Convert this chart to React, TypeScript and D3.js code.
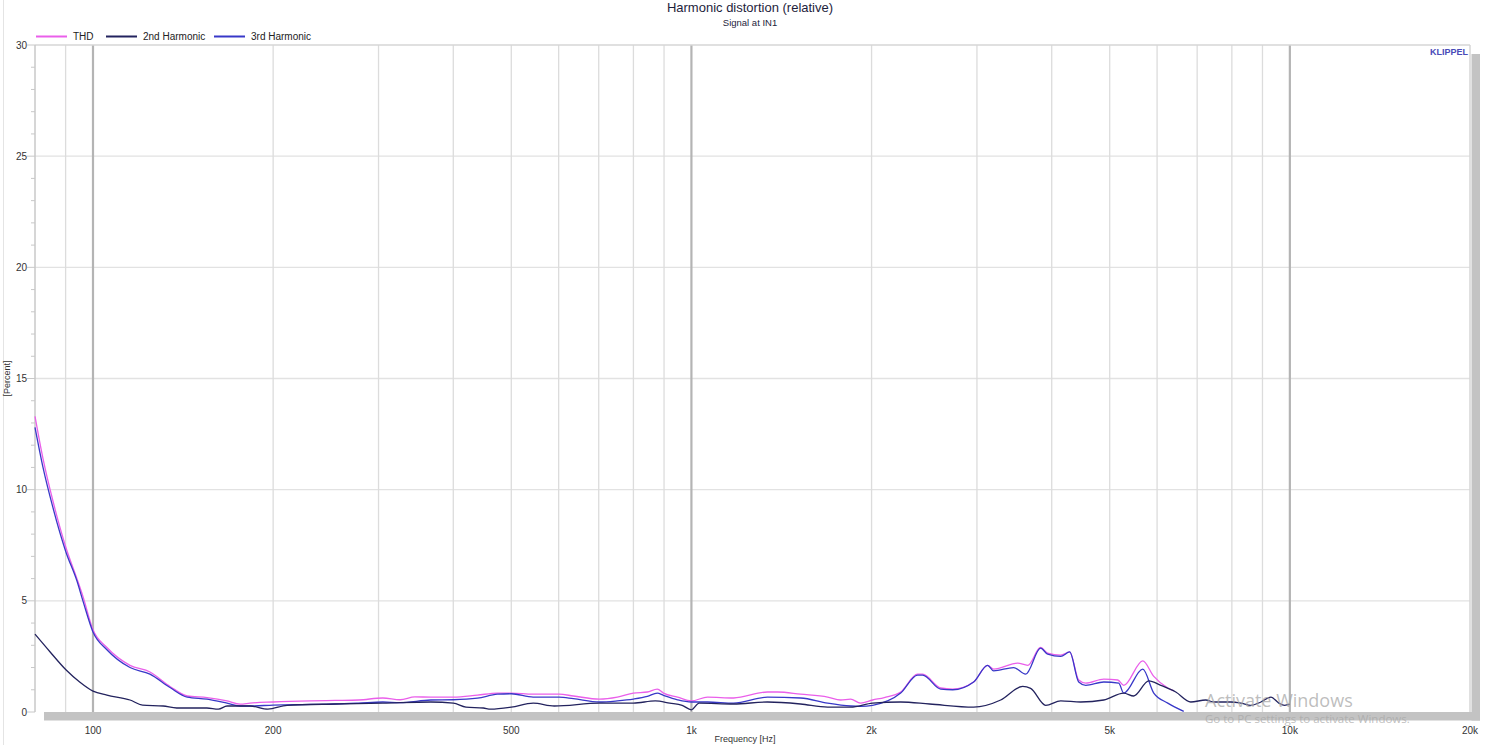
import React from "react";
import * as d3 from "d3";

const W = 1496;
const H = 745;

// THD
const thdFreq = [80, 82.5, 85.7, 90.1, 94, 96.2, 100, 105.5, 115.3, 124.5, 134.5, 143.7, 155.1, 167.5, 176.2, 183, 200, 231, 254, 278, 305, 326, 345, 367, 400, 439, 474, 500, 544, 601, 635, 702, 752, 800, 844, 877, 898, 948, 1000, 1064, 1176, 1340, 1393, 1522, 1689, 1775, 1845, 1917, 2008, 2100, 2237, 2387, 2434, 2609, 2733, 2962, 3126, 3199, 3509, 3647, 3833, 3938, 4141, 4287, 4438, 4560, 4887, 5157, 5277, 5678, 5924, 6252, 6397];
const thdVal = [13.3, 11.4, 9.5, 7.4, 6.0, 5.2, 3.7, 2.9, 2.1, 1.8, 1.15, 0.72, 0.65, 0.5, 0.35, 0.4, 0.45, 0.5, 0.52, 0.54, 0.63, 0.55, 0.68, 0.67, 0.67, 0.76, 0.85, 0.85, 0.8, 0.8, 0.72, 0.58, 0.67, 0.85, 0.9, 1.03, 0.85, 0.67, 0.5, 0.67, 0.63, 0.9, 0.9, 0.8, 0.67, 0.54, 0.58, 0.4, 0.54, 0.65, 0.9, 1.7, 1.7, 1.08, 1.03, 1.35, 2.1, 1.93, 2.2, 2.1, 2.9, 2.65, 2.56, 2.7, 1.44, 1.3, 1.48, 1.44, 1.2, 2.3, 1.6, 1.08, 0.95];

// 2nd harmonic
const h2Freq = [80, 84.8, 90.1, 95, 100, 105.5, 115.3, 121, 131, 138, 148, 155, 162, 167.5, 183, 196, 211, 254, 305, 367, 400, 420, 449, 462, 500, 544, 590, 702, 800, 870, 920, 965, 1000, 1030, 1176, 1340, 1522, 1689, 1845, 2008, 2237, 2500, 2962, 3287, 3577, 3689, 3908, 4141, 4472, 4887, 5277, 5484, 5811, 6085, 6447, 6830, 7235, 7464, 7965, 8281, 8606, 8945, 9296, 9586, 9800, 10000];
const h2Val = [3.5, 2.7, 1.9, 1.35, 0.94, 0.76, 0.54, 0.31, 0.27, 0.18, 0.18, 0.18, 0.13, 0.27, 0.27, 0.13, 0.3, 0.36, 0.4, 0.45, 0.4, 0.22, 0.18, 0.13, 0.22, 0.4, 0.27, 0.4, 0.4, 0.5, 0.4, 0.3, 0.1, 0.4, 0.36, 0.45, 0.36, 0.22, 0.22, 0.4, 0.45, 0.36, 0.22, 0.54, 1.15, 1.06, 0.3, 0.5, 0.45, 0.54, 0.85, 0.72, 1.4, 1.2, 0.9, 0.45, 0.54, 0.45, 0.45, 0.4, 0.3, 0.45, 0.67, 0.4, 0.3, 0.35];

// 3rd harmonic
const h3Freq = [80, 82.5, 85.7, 90.1, 94, 96.2, 100, 105.5, 115.3, 124.5, 134.5, 143.7, 155.1, 167.5, 176.2, 183, 200, 231, 254, 278, 305, 326, 367, 400, 439, 474, 500, 544, 601, 635, 702, 752, 800, 844, 877, 898, 948, 1000, 1064, 1176, 1340, 1522, 1689, 1845, 1917, 2008, 2237, 2387, 2434, 2609, 2733, 2962, 3126, 3199, 3455, 3618, 3833, 3938, 4141, 4287, 4438, 4560, 4887, 5176, 5277, 5678, 5924, 6252, 6648];
const h3Val = [12.8, 11.0, 9.2, 7.2, 5.9, 5.0, 3.6, 2.8, 2.0, 1.7, 1.1, 0.67, 0.58, 0.4, 0.27, 0.27, 0.31, 0.34, 0.36, 0.4, 0.45, 0.42, 0.54, 0.55, 0.62, 0.8, 0.82, 0.67, 0.67, 0.6, 0.45, 0.5, 0.58, 0.7, 0.85, 0.75, 0.55, 0.45, 0.45, 0.4, 0.67, 0.63, 0.4, 0.27, 0.25, 0.3, 0.85, 1.66, 1.66, 1.03, 1.0, 1.35, 2.1, 1.85, 2.0, 1.7, 2.87, 2.6, 2.5, 2.7, 1.35, 1.2, 1.35, 1.3, 0.85, 1.93, 0.85, 0.4, 0.03];

const minorGrid = [90, 200, 300, 400, 500, 600, 700, 800, 900, 2000, 3000, 4000, 5000, 6000, 7000, 8000, 9000];
const majorGrid = [100, 1000, 10000];
const xTicks = [100, 200, 500, 1000, 2000, 5000, 10000, 20000];
const xTickLabels = ["100", "200", "500", "1k", "2k", "5k", "10k", "20k"];
const yTicks = [0, 5, 10, 15, 20, 25, 30];

const series = [
  { name: "THD", freq: thdFreq, val: thdVal, color: "#ea5fea" },
  { name: "3rd Harmonic", freq: h3Freq, val: h3Val, color: "#3838c8" },
  { name: "2nd Harmonic", freq: h2Freq, val: h2Val, color: "#23235e" },
];
const legend = [
  { name: "THD", color: "#ea5fea" },
  { name: "2nd Harmonic", color: "#23235e" },
  { name: "3rd Harmonic", color: "#3838c8" },
];

const FONT = "'Liberation Sans', Arial, sans-serif";

export default function App() {
  const L = 35, R = 1470, T = 45, B = 712;
  const x = d3.scaleLog().domain([80, 20000]).range([L, R]);
  const y = d3.scaleLinear().domain([0, 30]).range([B, T]);
  const line = d3
    .line<[number, number]>()
    .x((d) => x(d[0]))
    .y((d) => y(d[1]))
    .curve(d3.curveMonotoneX);
  const minorY = d3.range(0, 31);

  return (
    <div style={{ position: "fixed", left: 0, top: 0 }}>
      <svg width={W} height={H} style={{ display: "block", background: "#fff" }} fontFamily={FONT}>
        <line x1={3.5} x2={3.5} y1={0} y2={H} stroke="#e4e4e4" />
        <text x={750} y={12} textAnchor="middle" fontSize={13} fill="#1e1e3c">Harmonic distortion (relative)</text>
        <text x={750} y={26} textAnchor="middle" fontSize={9.5} fill="#1e1e3c">Signal at IN1</text>

        {/* horizontal grid */}
        {yTicks.filter((t) => t > 0 && t < 30).map((t) => (
          <line key={"h" + t} x1={L} x2={R} y1={y(t)} y2={y(t)} stroke="#e2e2e2" strokeWidth={1.3} />
        ))}
        {/* vertical grid */}
        {minorGrid.map((f) => (
          <line key={"v" + f} x1={x(f)} x2={x(f)} y1={T} y2={B} stroke="#dcdcdc" strokeWidth={1.3} />
        ))}
        {majorGrid.map((f) => (
          <line key={"m" + f} x1={x(f)} x2={x(f)} y1={T} y2={B} stroke="#b4b4b4" strokeWidth={2.2} />
        ))}
        {/* frame */}
        <line x1={L} x2={R} y1={T} y2={T} stroke="#d6d6d6" strokeWidth={1.5} />
        <line x1={R} x2={R} y1={T} y2={B} stroke="#d6d6d6" strokeWidth={1.5} />
        <line x1={L} x2={L} y1={T} y2={B} stroke="#c8c8c8" strokeWidth={1.5} />

        {/* curves */}
        {series.map((s) => (
          <path
            key={s.name}
            d={line(s.freq.map((f, i) => [f, s.val[i]] as [number, number])) || ""}
            fill="none"
            stroke={s.color}
            strokeWidth={1.3}
          />
        ))}

        {/* scroll bars */}
        <rect x={44} y={B} width={1436} height={8.5} fill="#c3c3c3" />
        <rect x={1471.5} y={54} width={8.5} height={B - 54 + 8.5} fill="#c3c3c3" />

        {/* y ticks */}
        {minorY.map((t) => (
          <line key={"yt" + t} x1={t % 5 === 0 ? 27 : 31} x2={L} y1={y(t)} y2={y(t)} stroke="#c8c8c8" />
        ))}
        {yTicks.map((t) => (
          <text key={"yl" + t} x={27} y={y(t) + 3.5} textAnchor="end" fontSize={10} fill="#333">{t}</text>
        ))}
        <text transform={`translate(10,${(T + B) / 2}) rotate(-90)`} textAnchor="middle" fontSize={9} fill="#333">[Percent]</text>

        {/* x ticks */}
        {xTicks.map((f, i) => (
          <text key={"xl" + f} x={x(f)} y={734} textAnchor="middle" fontSize={10} fill="#333">{xTickLabels[i]}</text>
        ))}
        <text x={745} y={742} textAnchor="middle" fontSize={9} fill="#333">Frequency [Hz]</text>

        {/* legend */}
        {legend.map((l, i) => {
          const lx = [36, 106, 214][i];
          return (
            <g key={l.name}>
              <line x1={lx} x2={lx + 31} y1={36.5} y2={36.5} stroke={l.color} strokeWidth={2} />
              <text x={lx + 37} y={40} fontSize={10} fill="#222">{l.name}</text>
            </g>
          );
        })}

        <text x={1468} y={55} textAnchor="end" fontSize={9} fontWeight="bold" fill="#4a4ab8">KLIPPEL</text>

        <text x={1205} y={707} fontSize={18} fill="#a8a8a8" fillOpacity={0.75} fontFamily="'Open Sans', 'DejaVu Sans', sans-serif">Activate Windows</text>
        <text x={1205} y={723} fontSize={11.5} fill="#a8a8a8" fillOpacity={0.75} fontFamily="'Open Sans', 'DejaVu Sans', sans-serif">Go to PC settings to activate Windows.</text>
      </svg>
    </div>
  );
}
